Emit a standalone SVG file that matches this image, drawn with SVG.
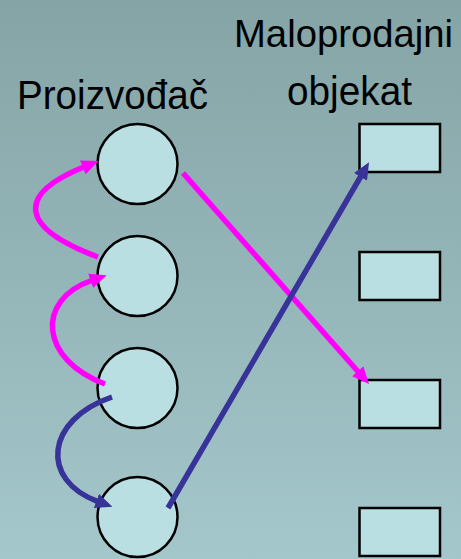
<svg xmlns="http://www.w3.org/2000/svg" width="461" height="559" viewBox="0 0 461 559">
  <defs>
    <linearGradient id="bg" x1="0" y1="0" x2="0" y2="1">
      <stop offset="0" stop-color="#85A4A6"/>
      <stop offset="1" stop-color="#A4C7CB"/>
    </linearGradient>
    <marker id="arrM" markerUnits="userSpaceOnUse" markerWidth="17" markerHeight="16" viewBox="0 0 17 16" refX="1" refY="8" orient="auto">
      <path d="M0,0.5 L17,8 L0,15.5 z" fill="#FF00FF"/>
    </marker>
    <marker id="arrB" markerUnits="userSpaceOnUse" markerWidth="17" markerHeight="16" viewBox="0 0 17 16" refX="1" refY="8" orient="auto">
      <path d="M0,0.5 L17,8 L0,15.5 z" fill="#383399"/>
    </marker>
  </defs>
  <style>
    .lbl { font-family: "Liberation Sans", Arial, sans-serif; font-size: 41px; fill: #000; }
    .node { fill: #B9DFE2; stroke: #000; stroke-width: 2.5; }
    .m { fill: none; stroke: #FF00FF; stroke-width: 5.5; marker-end: url(#arrM); }
    .b { fill: none; stroke: #383399; stroke-width: 5.5; marker-end: url(#arrB); }
  </style>
  <rect x="0" y="0" width="461" height="559" fill="url(#bg)"/>

  <g id="labels">
    <text class="lbl" x="17" y="109" textLength="191" lengthAdjust="spacingAndGlyphs">Proizvođač</text>
    <text class="lbl" x="234" y="47" style="font-size:39px" textLength="219" lengthAdjust="spacingAndGlyphs">Maloprodajni</text>
    <text class="lbl" x="287" y="105" textLength="125" lengthAdjust="spacingAndGlyphs">objekat</text>
  </g>

  <g id="p1"><circle class="node" cx="137.5" cy="164" r="40"/></g>
  <g id="p2"><circle class="node" cx="137.5" cy="276" r="40"/></g>
  <g id="p3"><circle class="node" cx="137.5" cy="388" r="40"/></g>
  <g id="p4"><circle class="node" cx="137.5" cy="517" r="40"/></g>

  <g id="r1"><rect class="node" x="359.5" y="124" width="80.5" height="48"/></g>
  <g id="r2"><rect class="node" x="359.5" y="252" width="80.5" height="48"/></g>
  <g id="r3"><rect class="node" x="359.5" y="380" width="80.5" height="48"/></g>
  <g id="r4"><rect class="node" x="359.5" y="508" width="80.5" height="48"/></g>

  <g id="connectors">
    <path class="m" d="M98,257 C20,228 15,195 83.7,167"/>
    <path class="m" d="M105,384 C40,360 35,300 91.5,280.5"/>
    <path class="b" d="M112,397 C45,420 40,480 97.4,501.3"/>
    <path class="m" d="M183,173 L358.4,372"/>
    <path class="b" d="M168,508 L361,176"/>
  </g>
</svg>
